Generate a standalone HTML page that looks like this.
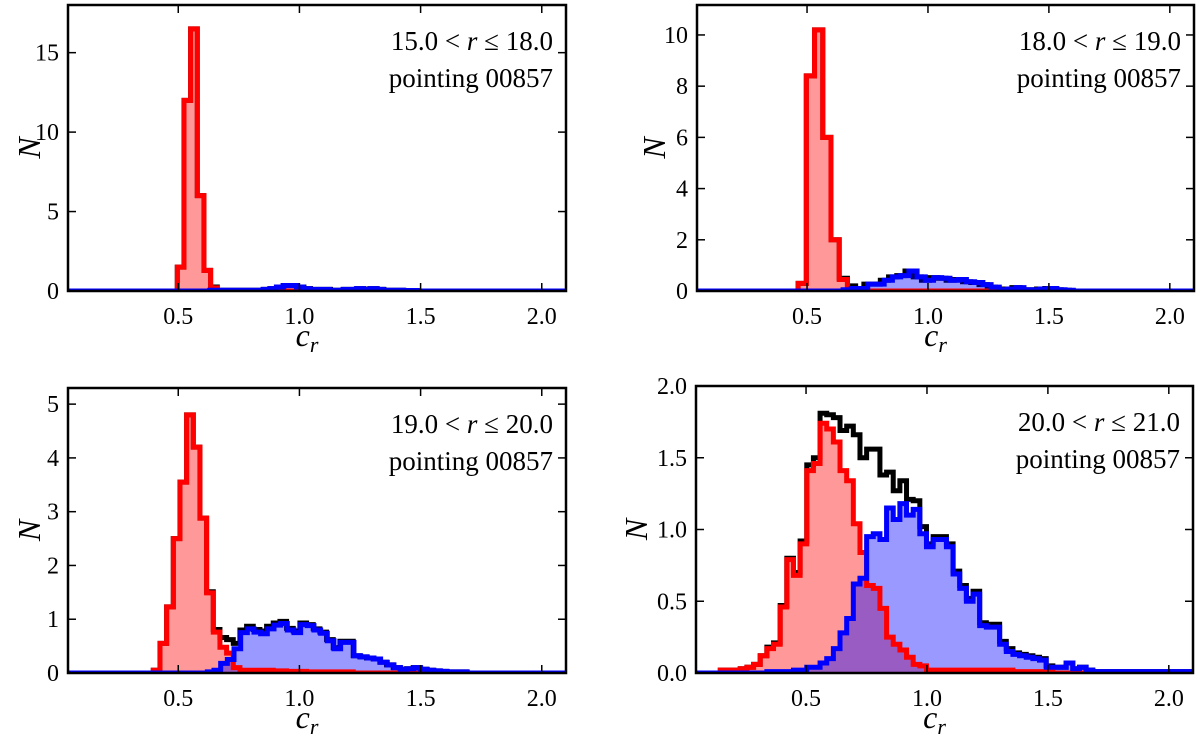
<!DOCTYPE html>
<html><head><meta charset="utf-8"><style>
body{margin:0;background:#fff}
svg{display:block}
text{font-family:"Liberation Serif",serif;fill:#000}
</style></head><body>
<svg id="fig" width="1200" height="737" viewBox="0 0 1200 737" xmlns="http://www.w3.org/2000/svg"></svg>
<script>
// ---- data ----
const xDomain = [0.045, 2.1];
const xTicks = [0.5, 1.0, 1.5, 2.0];
const titleLo = ["15.0", "18.0", "19.0", "20.0"];
const titleHi = ["18.0", "19.0", "20.0", "21.0"];
const yMaxes = [18, 11.17, 5.3, 2.0];
const yTicksTL = [0, 5, 10, 15];
const yTicksTR = [0, 2, 4, 6, 8, 10];
const yTicksBL = [0, 1, 2, 3, 4, 5];
const yTicksBR = [0.0, 0.5, 1.0, 1.5, 2.0];
const binWidths = [0.0275, 0.034, 0.0275, 0.0275];
const redStart = [0.496, 0.463, 0.397, 0.118];
const blueStart = [0.63, 0.649, 0.62, 0.118];
const redTL = [1.5, 12, 16.5, 6, 1.3, 0.2];
const blueTL = [0.05,0.05,0.05,0.05,0.05,0.05,0.05,0.05,0.1,0.15,0.25,0.35,0.35,0.25,0.15,0.1,0.1,0.1,0.05,0.05,0.1,0.1,0.15,0.1,0.15,0.1,0.05,0.05,0.05,0.03,0.03];
const redTR = [0.3, 8.4, 10.2, 6.0, 2.0, 0.45, 0.1];
const blueTR = [0.05,0.1,0.1,0.27,0.27,0.42,0.55,0.6,0.78,0.55,0.42,0.52,0.5,0.42,0.45,0.36,0.33,0.25,0.15,0.05,0.08,0.13,0.05,0.05,0.08,0.1,0.05,0.03];
const redBL = [0.05,0.55,1.23,2.5,3.55,4.8,4.2,2.88,1.49,0.76,0.48,0.37,0.1,0.05,0.05,0.05,0.05,0.05,0.04,0.04,0.03,0.03,0.03,0.02,0.02,0.02,0.02,0.02,0.02,0.02];
const blueBL = [0.02,0.05,0.18,0.25,0.45,0.75,0.82,0.76,0.73,0.82,0.89,0.92,0.8,0.75,0.9,0.88,0.8,0.74,0.6,0.45,0.57,0.57,0.32,0.3,0.28,0.26,0.2,0.15,0.1,0.07,0.08,0.1,0.07,0.05,0.04,0.03,0.02,0.02,0.02];
const redBR = [0.0,0.02,0.02,0.02,0.03,0.04,0.06,0.12,0.17,0.2,0.46,0.79,0.68,0.9,1.41,1.46,1.74,1.70,1.61,1.41,1.34,1.04,0.84,0.61,0.59,0.45,0.25,0.2,0.16,0.11,0.06,0.05,0.02,0.02,0.02,0.02,0.02,0.02,0.02,0.02,0.02,0.02,0.02,0.02,0.02,0.01,0.01,0.01,0.01,0.01,0.01];
const blueBR = [0,0,0,0,0,0,0,0,0.01,0.01,0.01,0.01,0.02,0.02,0.04,0.04,0.07,0.1,0.17,0.28,0.38,0.62,0.66,0.95,0.97,0.93,1.15,1.07,1.18,1.1,1.14,0.97,0.88,0.93,0.93,0.88,0.69,0.59,0.5,0.55,0.33,0.32,0.32,0.2,0.15,0.13,0.12,0.11,0.1,0.09,0.04,0.04,0.04,0.07,0.03,0.04,0.02,0.01,0.01,0.01,0.01,0.01,0.01,0.01,0.01,0.01,0.01,0.01,0.01,0.01,0.01,0.01];

const panels = [
  {L:68,R:566,T:5,B:291,red:redTL,blue:blueTL,yt:yTicksTL,fmt:v=>String(v),nOff:38,name:'panel-15-18'},
  {L:697,R:1194,T:5,B:291,red:redTR,blue:blueTR,yt:yTicksTR,fmt:v=>String(v),nOff:42,name:'panel-18-19'},
  {L:68,R:566,T:388,B:673,red:redBL,blue:blueBL,yt:yTicksBL,fmt:v=>String(v),nOff:38,name:'panel-19-20'},
  {L:696,R:1193,T:386,B:673,red:redBR,blue:blueBR,yt:yTicksBR,fmt:v=>v.toFixed(1),nOff:59,name:'panel-20-21'}
];
const NS='http://www.w3.org/2000/svg';
const svg=document.getElementById('fig');
function mk(tag,attrs,parent){const e=document.createElementNS(NS,tag);for(const k in attrs)e.setAttribute(k,attrs[k]);(parent||svg).appendChild(e);return e;}

panels.forEach((p,i)=>{
  const g=mk('g',{});
  
  
  const xs=v=>p.L+(v-xDomain[0])/(xDomain[1]-xDomain[0])*(p.R-p.L);
  const ys=v=>p.B-v/yMaxes[i]*(p.B-p.T);
  const w=binWidths[i];
  const clipId='clip'+i;
  const cp=mk('clipPath',{id:clipId},g);
  mk('rect',{x:p.L,y:p.T,width:p.R-p.L,height:p.B-p.T},cp);
  function stepPath(arr,start,closed){
    let d='M'+xs(closed?start:xDomain[0])+','+ys(0)+' L'+xs(start)+','+ys(0);
    arr.forEach((v,k)=>{d+=' L'+xs(start+k*w)+','+ys(v)+' L'+xs(start+(k+1)*w)+','+ys(v);});
    const end=start+arr.length*w;
    d+=' L'+xs(end)+','+ys(0);
    if(closed) d+=' Z'; else d+=' L'+xs(xDomain[1])+','+ys(0);
    return d;
  }
  const rs=redStart[i], bs=blueStart[i];
  const tStart=Math.min(rs,bs);
  const tEnd=Math.max(rs+p.red.length*w, bs+p.blue.length*w);
  const nT=Math.round((tEnd-tStart)/w);
  const total=[];
  for(let k=0;k<nT;k++){
    const c=tStart+(k+0.5)*w;
    const ri=Math.floor((c-rs)/w), bi=Math.floor((c-bs)/w);
    total.push((p.red[ri]||0)+(p.blue[bi]||0));
  }
  const cg=mk('g',{'clip-path':'url(#'+clipId+')'},g);
  const blk=mk('path',{d:stepPath(total,tStart,false),fill:'none',stroke:'#000','stroke-width':5},cg);
  
  
  const rf=mk('path',{d:stepPath(p.red,rs,true),fill:'rgba(255,0,0,0.4)',stroke:'none'},cg);
  
  
  const bf=mk('path',{d:stepPath(p.blue,bs,true),fill:'rgba(0,0,255,0.4)',stroke:'none'},cg);
  
  
  const rl=mk('path',{d:stepPath(p.red,rs,false),fill:'none',stroke:'#f00','stroke-width':5},cg);
  
  
  const bl=mk('path',{d:stepPath(p.blue,bs,false),fill:'none',stroke:'#00f','stroke-width':5},cg);
  
  
  const fr=mk('rect',{x:p.L,y:p.T,width:p.R-p.L,height:p.B-p.T,fill:'none',stroke:'#000','stroke-width':2.5},g);
  
  
  xTicks.forEach(t=>{
    const x=xs(t);
    mk('line',{x1:x,y1:p.B,x2:x,y2:p.B-8,stroke:'#000','stroke-width':1.5},g);
    mk('line',{x1:x,y1:p.T,x2:x,y2:p.T+8,stroke:'#000','stroke-width':1.5},g);
    const tx=mk('text',{x:x,y:p.B+33,'text-anchor':'middle','font-size':24},g);
    tx.textContent=t.toFixed(1);
    
    
  });
  p.yt.forEach(t=>{
    const y=ys(t);
    mk('line',{x1:p.L,y1:y,x2:p.L+8,y2:y,stroke:'#000','stroke-width':1.5},g);
    mk('line',{x1:p.R,y1:y,x2:p.R-8,y2:y,stroke:'#000','stroke-width':1.5},g);
    const ty=mk('text',{x:p.L-9,y:y+8,'text-anchor':'end','font-size':24},g);
    ty.textContent=p.fmt(t);
    
    
  });
  const xl=mk('text',{x:(p.L+p.R)/2-10,y:p.B+55,'text-anchor':'middle','font-size':32,'font-style':'italic'},g);
  xl.innerHTML='c<tspan font-size="22" dy="6">r</tspan>';
  
  
  const cy=(p.T+p.B)/2;
  const yl=mk('text',{x:0,y:0,'text-anchor':'middle','font-size':32,'font-style':'italic',transform:'translate('+(p.L-p.nOff+10)+','+cy+') rotate(-90)'},g);
  yl.textContent='N';
  
  
  const a1=mk('text',{x:p.R-13,y:p.T+45,'text-anchor':'end','font-size':27},g);
  a1.innerHTML=titleLo[i]+' &lt; <tspan font-style="italic">r</tspan> \u2264 '+titleHi[i];
  
  
  const a2=mk('text',{x:p.R-13,y:p.T+82,'text-anchor':'end','font-size':27},g);
  a2.textContent='pointing 00857';
  
  
});
</script>
</body></html>
